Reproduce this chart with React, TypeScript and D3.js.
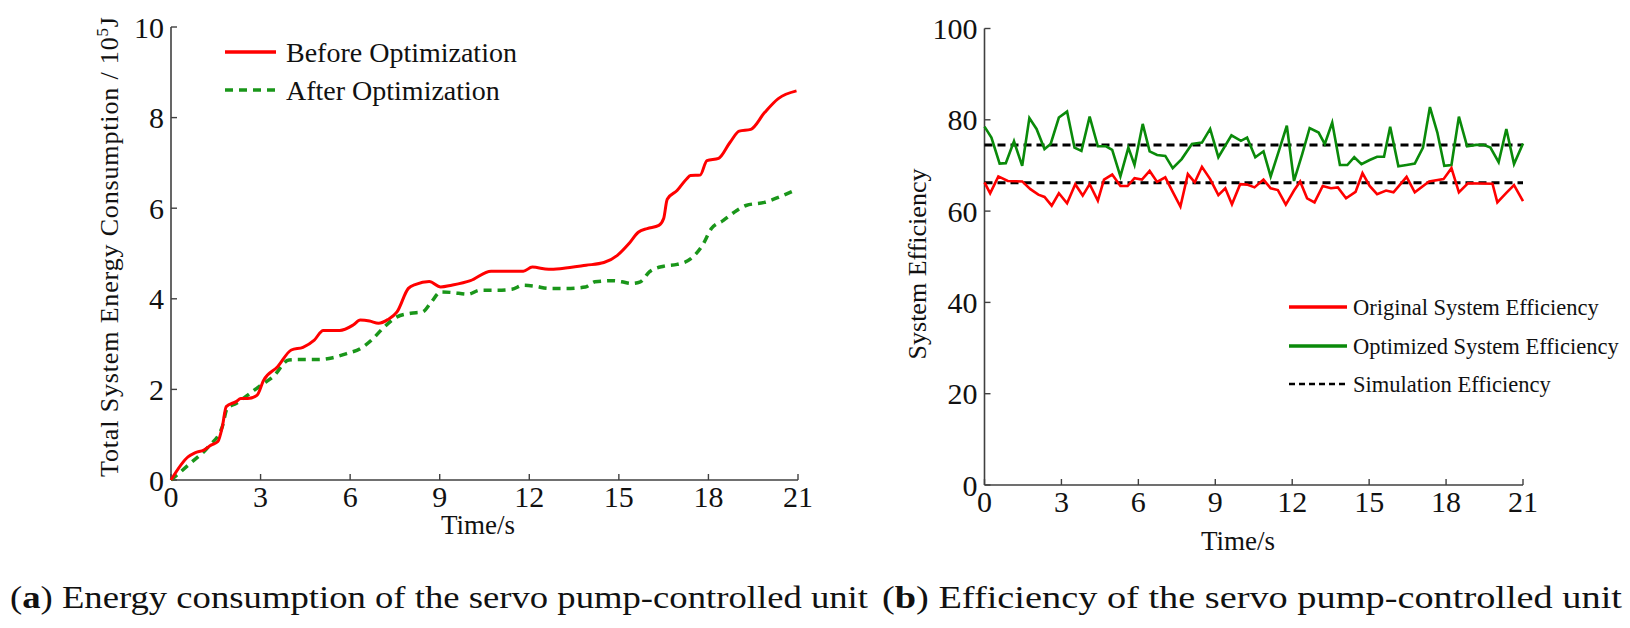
import React from 'react';
import * as d3 from 'd3';

const FONT = '"Liberation Serif", "Times New Roman", serif';

const timeTicks = [0, 3, 6, 9, 12, 15, 18, 21];
const energyTicks = [0, 2, 4, 6, 8, 10];
const effTicks = [0, 20, 40, 60, 80, 100];

// (a) cumulative energy, [time s, 10^5 J]
const beforeOpt: [number, number][] = [
  [0, 0], [0.57, 0.51], [0.8, 0.6], [1.1, 0.66], [1.34, 0.77], [1.57, 0.85], [1.72, 1.18], [1.85, 1.62],
  [2.18, 1.73], [2.34, 1.8], [2.57, 1.8], [2.88, 1.87], [3.1, 2.2], [3.57, 2.5], [4.03, 2.87], [4.42, 2.93],
  [4.8, 3.09], [5.1, 3.3], [5.65, 3.3], [6.1, 3.42], [6.34, 3.53], [6.65, 3.51], [6.95, 3.46], [7.26, 3.54],
  [7.57, 3.71], [7.95, 4.23], [8.2, 4.32], [8.65, 4.38], [9.03, 4.26], [9.4, 4.3], [10.03, 4.4], [10.72, 4.61],
  [11.8, 4.61], [12.1, 4.7], [12.65, 4.65], [13.1, 4.67], [13.9, 4.74], [14.5, 4.8], [14.95, 4.96], [15.34, 5.22],
  [15.65, 5.47], [15.95, 5.55], [16.34, 5.62], [16.5, 5.77], [16.62, 6.2], [16.95, 6.39], [17.26, 6.64], [17.4, 6.72],
  [17.72, 6.73], [17.95, 7.05], [18.34, 7.1], [18.72, 7.45], [19.03, 7.7], [19.42, 7.74], [19.88, 8.11], [20.34, 8.42],
  [20.95, 8.59],
];
const afterOpt: [number, number][] = [
  [0, 0], [0.65, 0.37], [1.26, 0.74], [1.72, 1.18], [1.88, 1.58], [2.18, 1.69], [2.57, 1.875], [3.03, 2.1],
  [3.42, 2.28], [3.95, 2.65], [4.34, 2.66], [4.95, 2.66], [5.42, 2.7], [5.88, 2.79], [6.34, 2.9], [6.72, 3.09],
  [7.1, 3.35], [7.57, 3.6], [8.03, 3.68], [8.42, 3.71], [8.72, 3.93], [9.03, 4.15], [9.4, 4.14], [9.95, 4.1],
  [10.34, 4.19], [10.95, 4.19], [11.42, 4.21], [11.8, 4.3], [12.18, 4.28], [12.65, 4.23], [13.26, 4.23], [13.88, 4.26],
  [14.2, 4.375], [14.8, 4.4], [15.1, 4.375], [15.42, 4.34], [15.72, 4.375], [16.03, 4.6], [16.5, 4.72], [16.95, 4.76],
  [17.4, 4.88], [17.8, 5.18], [18.1, 5.55], [18.5, 5.73], [18.95, 5.95], [19.26, 6.06], [19.88, 6.13], [20.34, 6.24],
  [20.8, 6.37],
];

// (b) efficiency, [time s, %]
const originalEff: [number, number][] = [
  [0, 66.3], [0.22, 63.9], [0.54, 67.6], [0.91, 66.6], [1.47, 66.5], [1.79, 64.8], [2.1, 63.6], [2.34, 63.1],
  [2.62, 61.2], [2.9, 63.9], [3.22, 61.7], [3.54, 65.9], [3.83, 63.4], [4.1, 65.9], [4.42, 62.3], [4.66, 66.9],
  [4.98, 68], [5.3, 65.5], [5.58, 65.5], [5.85, 67.2], [6.14, 66.9], [6.44, 68.8], [6.73, 66.4], [7.05, 67.4],
  [7.34, 64.2], [7.64, 61], [7.93, 68.1], [8.2, 66.3], [8.48, 69.7], [8.8, 67], [9.12, 63.5], [9.39, 65],
  [9.65, 61.5], [9.97, 65.9], [10.24, 65.8], [10.53, 65.2], [10.88, 66.9], [11.16, 65], [11.44, 64.6], [11.75, 61.4],
  [12.07, 64.5], [12.31, 66.5], [12.58, 62.8], [12.87, 61.9], [13.19, 65.5], [13.51, 65], [13.78, 65.2], [14.1, 62.8],
  [14.47, 64.2], [14.74, 68.3], [15.02, 65.5], [15.31, 63.7], [15.66, 64.5], [15.95, 64.1], [16.46, 67.5], [16.78, 64.1],
  [17.34, 66.5], [17.9, 67], [18.21, 69.4], [18.5, 64.1], [18.85, 66.1], [19.81, 66], [20.0, 61.9], [20.35, 64],
  [20.65, 65.7], [21, 62.2],
];
const optimizedEff: [number, number][] = [
  [0, 78.5], [0.27, 76.1], [0.59, 70.4], [0.83, 70.5], [1.15, 75.3], [1.47, 69.9], [1.75, 80.4], [2.03, 78],
  [2.34, 73.6], [2.58, 74.7], [2.9, 80.5], [3.22, 81.8], [3.51, 73.9], [3.78, 73.2], [4.1, 80.7], [4.42, 74.2],
  [4.74, 74.2], [4.98, 73.4], [5.3, 67.6], [5.61, 73.9], [5.85, 70.1], [6.17, 79.1], [6.44, 73.1], [6.73, 72.3],
  [7.05, 72.1], [7.34, 69.4], [7.69, 71.4], [8.09, 74.7], [8.48, 75], [8.8, 78], [9.12, 71.8], [9.63, 76.6],
  [10.0, 75.4], [10.24, 76.1], [10.56, 71.8], [10.88, 73.1], [11.16, 67.6], [11.48, 73.2], [11.79, 78.7], [12.07, 66.6],
  [12.39, 72.5], [12.68, 78.2], [13.03, 77.2], [13.27, 74.7], [13.56, 79.4], [13.86, 70.1], [14.15, 70.1], [14.42, 71.8],
  [14.7, 70.3], [15.02, 71.2], [15.31, 71.9], [15.58, 71.9], [15.82, 78.5], [16.14, 69.8], [16.46, 70.1], [16.78, 70.4],
  [17.1, 73.9], [17.37, 82.8], [17.66, 77.2], [17.93, 69.9], [18.21, 70.1], [18.5, 80.7], [18.82, 74.2], [19.17, 74.5],
  [19.46, 74.5], [19.73, 73.9], [20.05, 70.7], [20.35, 78], [20.65, 70.3], [21, 74.8],
];
const simulationEff = [74.5, 66.2];

const AXIS = '#404040';

function Frame({ x, y, xTicks, yTicks, tickSize, labelGap }: {
  x: d3.ScaleLinear<number, number>; y: d3.ScaleLinear<number, number>;
  xTicks: number[]; yTicks: number[]; tickSize: number; labelGap: number;
}) {
  const [x0, x1] = x.range();
  const [y0, y1] = y.range();
  return (
    <g>
      <line x1={x0} x2={x1} y1={y0} y2={y0} stroke={AXIS} strokeWidth={1.6} />
      <line x1={x0} x2={x0} y1={y0} y2={y1} stroke={AXIS} strokeWidth={1.6} />
      {xTicks.map(t => (
        <g key={'x' + t}>
          <line x1={x(t)} x2={x(t)} y1={y0} y2={y0 - tickSize} stroke={AXIS} strokeWidth={1.4} />
          <text x={x(t)} y={y0 + labelGap} textAnchor="middle" fontSize={30} fill="#111">{t}</text>
        </g>
      ))}
      {yTicks.map(t => (
        <g key={'y' + t}>
          <line x1={x0} x2={x0 + tickSize} y1={y(t)} y2={y(t)} stroke={AXIS} strokeWidth={1.4} />
          <text x={x0 - 7} y={y(t)} dy="0.35em" textAnchor="end" fontSize={30} fill="#111">{t}</text>
        </g>
      ))}
    </g>
  );
}

export default function App() {
  const xa = d3.scaleLinear().domain([0, 21]).range([171, 798]);
  const ya = d3.scaleLinear().domain([0, 10]).range([480, 27]);
  const xb = d3.scaleLinear().domain([0, 21]).range([984.5, 1523]);
  const yb = d3.scaleLinear().domain([0, 100]).range([485, 28.5]);

  const lineA = d3.line<[number, number]>().x(d => xa(d[0])).y(d => ya(d[1])).curve(d3.curveMonotoneX);
  const lineB = d3.line<[number, number]>().x(d => xb(d[0])).y(d => yb(d[1]));

  return (
    <svg width={1630} height={628} style={{ position: 'absolute', left: 0, top: 0, background: '#fff' }}
      fontFamily={FONT}>
      {/* panel a */}
      <Frame x={xa} y={ya} xTicks={timeTicks} yTicks={energyTicks} tickSize={6} labelGap={27} />
      <path d={lineA(afterOpt) ?? ''} fill="none" stroke="#1a961a" strokeWidth={3.5} strokeDasharray="8,6" />
      <path d={lineA(beforeOpt) ?? ''} fill="none" stroke="#ff0000" strokeWidth={3} />
      <text transform="translate(118,247) rotate(-90)" textAnchor="middle" fontSize={26} fill="#111"
        textLength={460} lengthAdjust="spacing">
        Total System Energy Consumption / 10<tspan fontSize={17} dy={-10}>5</tspan><tspan dy={10}>J</tspan>
      </text>
      <text x={478} y={534} textAnchor="middle" fontSize={27} fill="#111">Time/s</text>
      <line x1={225} x2={276} y1={52} y2={52} stroke="#ff0000" strokeWidth={3.5} />
      <line x1={225} x2={276} y1={90} y2={90} stroke="#1a961a" strokeWidth={3.5} strokeDasharray="8,6" />
      <text x={286} y={52} dy="0.35em" fontSize={28} fill="#111">Before Optimization</text>
      <text x={286} y={90} dy="0.35em" fontSize={28} fill="#111">After Optimization</text>

      {/* panel b */}
      <Frame x={xb} y={yb} xTicks={timeTicks} yTicks={effTicks} tickSize={6} labelGap={27} />
      {simulationEff.map(v => (
        <line key={v} x1={xb(0)} x2={xb(21)} y1={yb(v)} y2={yb(v)} stroke="#000" strokeWidth={3} strokeDasharray="8,5" />
      ))}
      <path d={lineB(optimizedEff) ?? ''} fill="none" stroke="#0a8a0a" strokeWidth={2.6} />
      <path d={lineB(originalEff) ?? ''} fill="none" stroke="#ff0000" strokeWidth={2.6} />
      <text transform="translate(926,264) rotate(-90)" textAnchor="middle" fontSize={26} fill="#111">System Efficiency</text>
      <text x={1238} y={550} textAnchor="middle" fontSize={27} fill="#111">Time/s</text>
      <line x1={1289} x2={1347} y1={307} y2={307} stroke="#ff0000" strokeWidth={3.5} />
      <line x1={1289} x2={1347} y1={346} y2={346} stroke="#0a8a0a" strokeWidth={3.5} />
      <line x1={1289} x2={1347} y1={384} y2={384} stroke="#000" strokeWidth={2.5} strokeDasharray="6,4" />
      <text x={1353} y={307} dy="0.35em" fontSize={22.5} fill="#111">Original System Efficiency</text>
      <text x={1353} y={346} dy="0.35em" fontSize={22.5} fill="#111">Optimized System Efficiency</text>
      <text x={1353} y={384} dy="0.35em" fontSize={22.5} fill="#111">Simulation Efficiency</text>

      {/* captions */}
      <text x={10} y={608} fontSize={31} fill="#111" textLength={858} lengthAdjust="spacingAndGlyphs">
        (<tspan fontWeight="bold">a</tspan>) Energy consumption of the servo pump-controlled unit
      </text>
      <text x={882} y={608} fontSize={31} fill="#111" textLength={740} lengthAdjust="spacingAndGlyphs">
        (<tspan fontWeight="bold">b</tspan>) Efficiency of the servo pump-controlled unit
      </text>
    </svg>
  );
}
